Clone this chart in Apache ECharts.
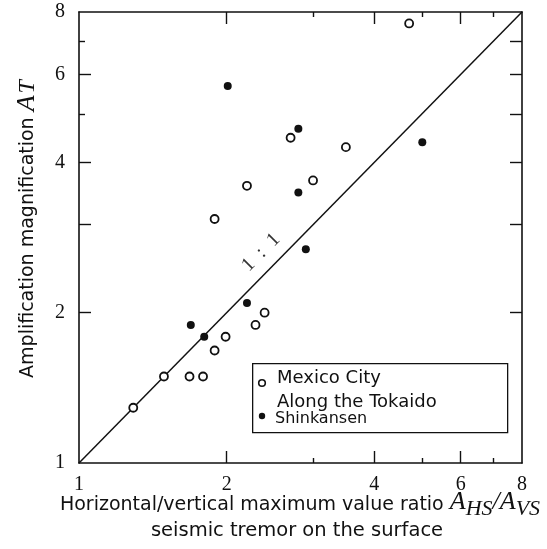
<!DOCTYPE html>
<html>
<head>
<meta charset="utf-8">
<script src="https://cdn.jsdelivr.net/npm/echarts@6/dist/echarts.min.js"></script>
<style>
  html, body { margin: 0; padding: 0; background: #fff; }
  #chart { width: 547px; height: 549px; }
</style>
</head>
<body>
<div id="chart"></div>
<script>
// Horizontal/vertical ratio of seismic tremor vs. amplification (log-log)
const mexicoCityX = [1.29, 1.49, 1.68, 1.79, 1.89, 1.99, 2.29, 2.39, 1.89, 2.20, 2.70, 3.00, 3.50, 4.71];
const mexicoCityY = [1.29, 1.49, 1.49, 1.49, 1.68, 1.79, 1.89, 2.00, 3.08, 3.59, 4.48, 3.68, 4.29, 7.59];

const tokaidoX = [1.69, 1.80, 2.20, 2.01, 2.80, 2.80, 2.90, 5.01];
const tokaidoY = [1.89, 1.79, 2.09, 5.69, 4.67, 3.48, 2.68, 4.39];

// one-to-one reference line and its caption position
const refLineX = [1, 8];
const refLineY = [1, 8];
const refCaption = [[2.35, 2.64]];

const axisMin = 1;
const axisMax = 8;
const labelTicks = [1, 2, 4, 6, 8];
const majorTicks = [2, 4, 6];
const minorTicks = [3, 5, 7];
const leftLongTicks = [2, 3, 4, 6];
const leftShortTicks = [5, 7];
const rightTicks = [2, 3, 4, 5, 6, 7];

const zip = (xs, ys) => xs.map((x, i) => [x, ys[i]]);

const SERIF = '"Liberation Serif", "DejaVu Serif", serif';
const SANS = '"DejaVu Sans", sans-serif';
const INK = '#111';

function logAxis(position, opts) {
  return Object.assign({
    type: 'log',
    logBase: 10,
    min: axisMin,
    max: axisMax,
    position: position,
    splitLine: { show: false },
    axisLine: { show: true, onZero: false, lineStyle: { color: INK, width: 1.6 } },
    axisTick: { show: true, inside: true, length: 12, lineStyle: { color: INK, width: 1.4 } },
    axisLabel: { show: false },
    minorTick: { show: false },
    minorSplitLine: { show: false }
  }, opts);
}

function ticks(values, length) {
  return { show: true, inside: true, length: length, customValues: values, lineStyle: { color: INK, width: 1.4 } };
}

function tickLabel(margin) {
  return {
    show: true,
    customValues: labelTicks,
    color: INK,
    fontFamily: SERIF,
    fontSize: 20,
    margin: margin,
    formatter: v => String(Math.round(v))
  };
}

const chart = echarts.init(document.getElementById('chart'), null, { renderer: 'canvas' });

chart.setOption({
  backgroundColor: '#fff',
  animation: false,
  grid: { left: 79, right: 25, top: 12, bottom: 86 },
  xAxis: [
    logAxis('bottom', { axisTick: ticks(majorTicks, 12), axisLabel: tickLabel(12) }),
    logAxis('bottom', { axisLine: { show: false }, axisTick: ticks(minorTicks, 5) }),
    logAxis('top', { axisTick: ticks(majorTicks, 12) }),
    logAxis('top', { axisLine: { show: false }, axisTick: ticks(minorTicks, 5) })
  ],
  yAxis: [
    logAxis('left', { axisTick: ticks(leftLongTicks, 12), axisLabel: tickLabel(14) }),
    logAxis('left', { axisLine: { show: false }, axisTick: ticks(leftShortTicks, 6) }),
    logAxis('right', { axisTick: ticks(rightTicks, 12) })
  ],
  series: [
    {
      name: '1 : 1',
      type: 'line',
      data: zip(refLineX, refLineY),
      showSymbol: false,
      silent: true,
      z: 1,
      lineStyle: { color: INK, width: 1.5 }
    },
    {
      name: '1 : 1 caption',
      type: 'scatter',
      data: refCaption,
      symbolSize: 0,
      silent: true,
      z: 2,
      label: {
        show: true,
        position: 'inside',
        formatter: '1  :  1',
        rotate: 45,
        color: '#000',
        fontFamily: SERIF,
        fontSize: 20
      }
    },
    {
      name: 'Mexico City',
      type: 'scatter',
      data: zip(mexicoCityX, mexicoCityY),
      symbol: 'circle',
      symbolSize: 8,
      z: 3,
      itemStyle: { color: '#fff', borderColor: INK, borderWidth: 1.8, opacity: 1 }
    },
    {
      name: 'Along the Tokaido Shinkansen',
      type: 'scatter',
      data: zip(tokaidoX, tokaidoY),
      symbol: 'circle',
      symbolSize: 8,
      z: 3,
      itemStyle: { color: INK, opacity: 1 }
    }
  ],
  graphic: [
    // legend box
    {
      type: 'rect', left: 252, top: 363, z: 10,
      shape: { width: 255, height: 69 },
      style: { fill: '#fff', stroke: INK, lineWidth: 1.3 }
    },
    {
      type: 'circle', x: 262, y: 383, z: 11,
      shape: { r: 3.3 },
      style: { fill: '#fff', stroke: INK, lineWidth: 1.6 }
    },
    {
      type: 'circle', x: 262, y: 416, z: 11,
      shape: { r: 3.2 },
      style: { fill: INK }
    },
    {
      type: 'text', x: 277, y: 378, z: 11,
      style: { text: 'Mexico City', fill: INK, font: '18px ' + SANS, verticalAlign: 'middle' }
    },
    {
      type: 'text', x: 277, y: 402, z: 11,
      style: { text: 'Along the Tokaido', fill: INK, font: '18px ' + SANS, verticalAlign: 'middle' }
    },
    {
      type: 'text', x: 275, y: 419, z: 11,
      style: { text: 'Shinkansen', fill: INK, font: '16px ' + SANS, verticalAlign: 'middle' }
    },
    // y-axis title
    {
      type: 'text', x: 28, y: 229, rotation: Math.PI / 2, z: 11,
      style: {
        text: '{t|Amplification magnification }{a|A}{s|T}',
        align: 'center',
        verticalAlign: 'middle',
        rich: {
          t: { fontFamily: SANS, fontSize: 19, fill: INK, verticalAlign: 'bottom', padding: [0, 0, 4, 0] },
          a: { fontFamily: SERIF, fontStyle: 'italic', fontSize: 26, fill: INK, verticalAlign: 'bottom', padding: [0, 0, 2, 0] },
          s: { fontFamily: SERIF, fontStyle: 'italic', fontSize: 24, fill: INK, verticalAlign: 'bottom', padding: [0, 0, 2, 2] }
        }
      }
    },
    // x-axis title, two lines
    {
      type: 'text', x: 300, y: 505, z: 11,
      style: {
        text: '{t|Horizontal/vertical maximum value ratio }{a|A}{s|HS}{a|/A}{s|VS}',
        align: 'center',
        verticalAlign: 'middle',
        rich: {
          t: { fontFamily: SANS, fontSize: 19, fill: INK, verticalAlign: 'bottom', padding: [0, 0, 6, 0] },
          a: { fontFamily: SERIF, fontStyle: 'italic', fontSize: 26, fill: INK, verticalAlign: 'bottom', padding: [0, 0, 5, 0] },
          s: { fontFamily: SERIF, fontStyle: 'italic', fontSize: 22, fill: INK, verticalAlign: 'bottom', padding: [0, 0, 0, 0] }
        }
      }
    },
    {
      type: 'text', x: 297, y: 531, z: 11,
      style: { text: 'seismic tremor on the surface', fill: INK, font: '19.5px ' + SANS, align: 'center', verticalAlign: 'middle' }
    }
  ]
});
</script>
</body>
</html>
